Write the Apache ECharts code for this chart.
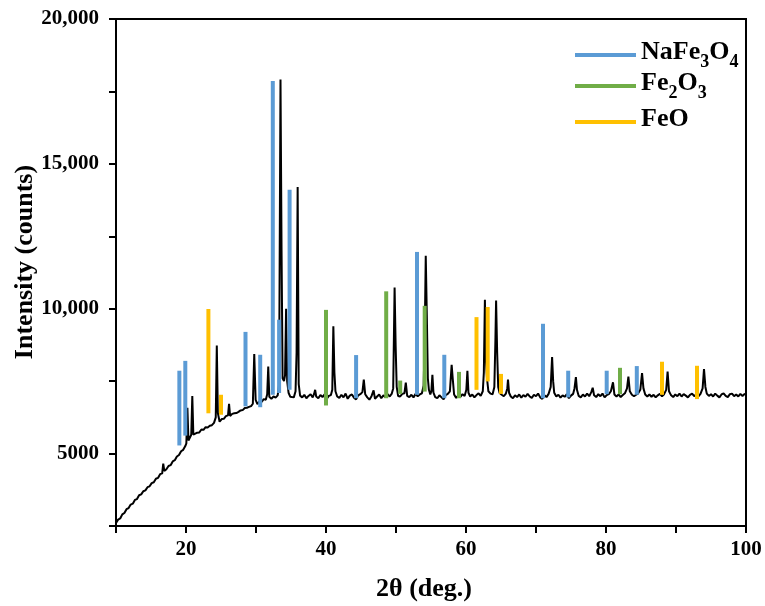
<!DOCTYPE html>
<html>
<head>
<meta charset="utf-8">
<script src="https://cdn.jsdelivr.net/npm/echarts@6/dist/echarts.min.js"></script>
<style>
html,body{margin:0;padding:0;background:#fff;}
#chart{width:765px;height:606px;}
</style>
</head>
<body>
<div id="chart"></div>
<script>
// XRD pattern: 2θ (deg.) and intensity (counts)
const twoTheta = [
10.0,10.3,10.6,10.9,11.2,11.5,11.8,12.1,12.4,12.7,13.0,13.3,13.6,13.9,14.2,14.5,14.8,15.1,15.4,15.7,
16.0,16.3,16.6,16.75,16.9,17.2,17.5,17.8,18.1,18.4,18.7,19.0,19.3,19.6,19.9,20.05,20.2,20.35,20.6,20.75,
20.9,21.05,21.3,21.6,21.9,22.2,22.5,22.8,23.1,23.4,23.7,24.0,24.25,24.4,24.55,24.8,25.1,25.4,25.7,26.0,
26.15,26.3,26.6,26.9,27.2,27.5,27.8,28.1,28.4,28.7,29.0,29.3,29.55,29.75,29.95,30.2,30.5,30.8,31.1,31.4,
31.6,31.75,31.9,32.2,32.5,32.8,33.1,33.3,33.5,33.65,33.8,34.0,34.15,34.3,34.45,34.65,34.9,35.1,35.4,35.65,
35.8,35.95,36.1,36.3,36.6,36.9,37.2,37.5,37.8,38.1,38.3,38.45,38.6,38.9,39.2,39.5,39.8,40.1,40.4,40.7,
40.9,41.05,41.2,41.35,41.6,41.9,42.2,42.5,42.8,43.1,43.4,43.7,44.0,44.3,44.6,44.9,45.2,45.4,45.6,45.9,
46.2,46.5,46.8,47.0,47.3,47.6,47.9,48.2,48.5,48.8,49.1,49.4,49.6,49.8,49.95,50.1,50.3,50.6,50.9,51.2,
51.4,51.6,51.9,52.2,52.5,52.8,53.1,53.4,53.7,53.95,54.1,54.25,54.4,54.55,54.7,54.9,55.05,55.2,55.35,55.6,
55.9,56.2,56.5,56.8,57.1,57.4,57.7,57.95,58.1,58.3,58.6,58.9,59.2,59.5,59.8,60.05,60.2,60.35,60.6,60.9,
61.2,61.5,61.8,62.1,62.4,62.55,62.7,62.85,63.0,63.2,63.5,63.8,64.05,64.2,64.3,64.45,64.6,64.8,65.1,65.4,
65.7,65.9,66.0,66.15,66.4,66.7,67.0,67.3,67.6,67.9,68.2,68.5,68.8,69.1,69.4,69.7,70.0,70.3,70.6,70.9,
71.2,71.5,71.8,72.1,72.3,72.45,72.6,72.9,73.2,73.5,73.8,74.1,74.4,74.7,75.0,75.3,75.5,75.7,75.85,76.1,
76.4,76.7,77.0,77.3,77.6,77.9,78.1,78.3,78.6,78.9,79.2,79.5,79.8,80.1,80.4,80.7,81.0,81.2,81.5,81.8,
82.1,82.4,82.7,83.0,83.2,83.4,83.7,84.0,84.3,84.6,84.9,85.15,85.35,85.6,85.9,86.2,86.5,86.8,87.1,87.4,
87.7,88.0,88.3,88.6,88.8,89.0,89.3,89.6,89.9,90.2,90.5,90.8,91.1,91.4,91.7,92.0,92.3,92.6,92.9,93.2,
93.5,93.8,94.0,94.2,94.4,94.7,95.0,95.3,95.6,95.9,96.2,96.5,96.8,97.1,97.4,97.7,98.0,98.3,98.6,98.9,
99.2,99.5,99.8,100.0
];
const counts = [
2600,2720,2760,2900,2950,3080,3120,3240,3270,3400,3430,3560,3590,3700,3730,3840,3870,3980,4010,4130,
4160,4290,4320,4650,4400,4460,4570,4600,4730,4770,4900,4950,5080,5130,5260,5350,6580,5450,5420,5650,
6990,5650,5600,5720,5730,5830,5820,5910,5900,5960,5980,6060,6250,8730,6400,6100,6190,6200,6290,6320,
6720,6300,6370,6390,6400,6440,6490,6500,6570,6580,6610,6640,6720,8440,6850,6710,6800,6780,6880,6860,
7050,8000,6960,6890,6970,6930,7010,7400,17910,12000,7600,7500,7700,10000,7500,7100,6960,6980,6940,7150,
8500,14200,7400,7000,6940,7030,6910,6990,7050,6940,7060,7200,6970,6910,7020,6950,7040,6890,6990,7020,
7200,9390,7800,7150,6970,6920,7030,6940,7070,6890,7000,7040,6930,6870,7010,7050,7120,7550,7050,6940,
6860,6980,7180,6890,6970,7040,6910,7010,6940,7050,6970,7070,7250,10730,8700,7300,6990,6970,7060,7080,
7450,6990,6950,7030,6940,7060,6980,7040,7080,7350,9000,11830,9800,7600,7200,7040,7150,7720,7100,6950,
6910,7010,6940,6870,7020,7060,7150,8060,7600,7040,6920,7010,6960,7050,6990,7200,7860,7100,6970,7040,
6940,7020,7080,6990,7150,7800,10310,8200,7600,7150,7070,7050,7300,8900,10280,8500,7300,7090,7030,6980,
7070,7250,7550,7100,6970,6910,7010,6950,7040,6930,7020,6960,7060,6970,6920,7030,6980,7070,6940,6890,
7010,6950,7060,7300,8330,7500,7100,6970,7030,6930,7010,6960,7050,6910,7000,7060,7250,7640,7200,6990,
6940,7040,6970,7070,6980,7120,7270,7010,6950,7050,6980,7070,6940,7020,7050,7150,7460,7040,6970,7040,
6950,7020,7080,7250,7660,7150,7030,6980,7030,7080,7200,7780,7250,7040,6970,7040,6960,7030,6940,7010,
7060,6980,7050,7200,7830,7150,7010,6950,7040,6980,7070,6970,7050,7000,6940,7030,7070,6980,7050,6970,
7060,7250,7920,7300,7070,6990,7050,6970,7070,7000,6940,7040,7080,6990,6950,7050,7070,6980,7040,6970,
7060,6990,7060,7020
];

// Reference sticks: position (2θ), bottom and top (counts)
const nafePos  = [19.05, 19.9, 28.5, 30.6, 32.4, 33.3, 34.8, 44.3, 53.0, 56.9, 71.0, 74.6, 80.1, 84.4];
const nafeLow  = [5280, 5620, 6630, 6600, 7030, 7090, 7200, 6910, 7030, 6910, 6910, 6940, 7050, 7030];
const nafeHigh = [7860, 8200, 9200, 8410, 17860, 9620, 14110, 8400, 11960, 8410, 9480, 7860, 7860, 8020];

const fe2o3Pos  = [40.0, 48.6, 50.6, 54.1, 59.0, 82.0];
const fe2o3Low  = [6660, 6910, 7060, 7140, 6910, 7050];
const fe2o3High = [9960, 10600, 7520, 10100, 7820, 7960];

const feoPos  = [23.2, 25.0, 61.5, 63.1, 65.0, 88.0, 93.0];
const feoLow  = [6390, 6340, 7200, 7490, 7060, 7030, 6880];
const feoHigh = [9990, 7030, 9710, 10060, 7750, 8170, 8030];

const phaseNames = ['NaFe3O4', 'Fe2O3', 'FeO'];
const yTickLabels = {5000: '5000', 10000: '10,000', 15000: '15,000', 20000: '20,000'};
const xTickLabels = {20: '20', 40: '40', 60: '60', 80: '80', 100: '100'};

const SERIF = '"Liberation Serif", "Times New Roman", serif';

function zip3(a, b, c) { return a.map((v, i) => [v, b[i], c[i]]); }

function stickSeries(name, color, data) {
  return {
    name: name,
    type: 'custom',
    z: 5,
    itemStyle: { color: color },
    encode: { x: 0, y: [1, 2] },
    data: data,
    renderItem: function (params, api) {
      const x = api.value(0);
      const p0 = api.coord([x, api.value(1)]);
      const p1 = api.coord([x, api.value(2)]);
      return {
        type: 'rect',
        shape: { x: p0[0] - 2, y: p1[1], width: 4, height: p0[1] - p1[1] },
        style: { fill: color }
      };
    }
  };
}

const legendRich = {
  a: { fontFamily: SERIF, fontWeight: 'bold', fontSize: 26, color: '#000', lineHeight: 32, verticalAlign: 'top' },
  s: { fontFamily: SERIF, fontWeight: 'bold', fontSize: 18, color: '#000', lineHeight: 12, verticalAlign: 'bottom' }
};
const legendText = {
  'NaFe3O4': '{a|NaFe}{s|3}{a|O}{s|4}',
  'Fe2O3': '{a|Fe}{s|2}{a|O}{s|3}',
  'FeO': '{a|FeO}'
};
const legendTops = [34, 65, 101];

const chart = echarts.init(document.getElementById('chart'), null, { renderer: 'canvas' });
chart.setOption({
  animation: false,
  backgroundColor: '#fff',
  grid: {
    left: 116, right: 19, top: 19, bottom: 80, containLabel: false, outerBoundsMode: 'none',
    show: true, borderColor: '#000', borderWidth: 2, backgroundColor: 'transparent'
  },
  legend: phaseNames.map((n, i) => ({
    left: 570, top: legendTops[i], orient: 'vertical',
    itemWidth: 61, itemHeight: 4, icon: 'rect',
    data: [n],
    formatter: function (name) { return legendText[name]; },
    textStyle: { rich: legendRich }
  })),
  xAxis: {
    type: 'value', min: 10, max: 100, interval: 10,
    name: '2θ (deg.)', nameLocation: 'middle', nameGap: 50, nameMoveOverlap: false,
    nameTextStyle: { fontFamily: SERIF, fontWeight: 'bold', fontSize: 26, color: '#000', padding: [0, 14, 0, 0] },
    axisLine: { show: true, onZero: false, lineStyle: { color: '#000', width: 2 } },
    axisTick: { show: true, inside: false, length: 7, lineStyle: { color: '#000', width: 2 } },
    axisLabel: {
      fontFamily: SERIF, fontWeight: 'bold', fontSize: 21, color: '#000', margin: 13,
      formatter: function (v) { return xTickLabels[v] || ''; }
    },
    splitLine: { show: false }
  },
  yAxis: {
    type: 'value', min: 2500, max: 20000, interval: 2500,
    name: 'Intensity (counts)', nameLocation: 'middle', nameGap: 78, nameMoveOverlap: false,
    nameTextStyle: { fontFamily: SERIF, fontWeight: 'bold', fontSize: 26, color: '#000', padding: [0, 0, 0, 21] },
    axisLine: { show: true, onZero: false, lineStyle: { color: '#000', width: 2 } },
    axisTick: { show: true, inside: false, length: 7, lineStyle: { color: '#000', width: 2 } },
    axisLabel: {
      fontFamily: SERIF, fontWeight: 'bold', fontSize: 21, color: '#000', margin: 17,
      formatter: function (v) { return yTickLabels[v] || ''; }
    },
    splitLine: { show: false }
  },
  series: [
    {
      name: 'XRD', type: 'line', showSymbol: false, symbol: 'none', z: 3,
      lineStyle: { color: '#000', width: 2 },
      data: twoTheta.map((x, i) => [x, counts[i]])
    },
    stickSeries('NaFe3O4', '#5B9BD5', zip3(nafePos, nafeLow, nafeHigh)),
    stickSeries('Fe2O3', '#70AD47', zip3(fe2o3Pos, fe2o3Low, fe2o3High)),
    stickSeries('FeO', '#FFC000', zip3(feoPos, feoLow, feoHigh))
  ]
});
</script>
</body>
</html>
